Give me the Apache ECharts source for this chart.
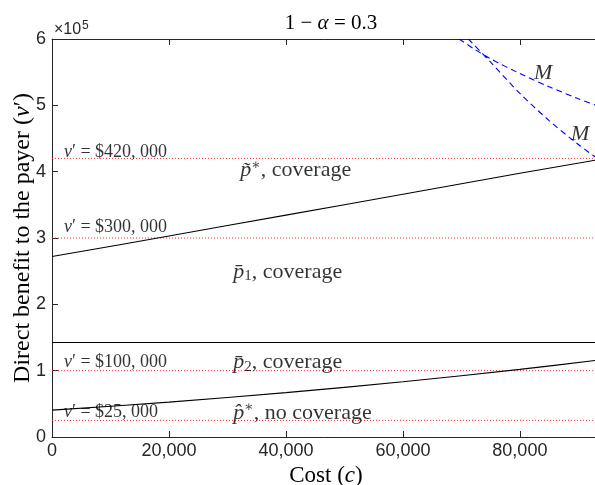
<!DOCTYPE html>
<html>
<head>
<meta charset="utf-8">
<script src="https://cdn.jsdelivr.net/npm/echarts@6/dist/echarts.min.js"></script>
<style>
  html, body { margin: 0; padding: 0; background: #fff; }
  #chart { width: 595px; height: 485px; }
</style>
</head>
<body>
<div id="chart"></div>
<script>
// Axis ticks
const costTicks = [0, 20000, 40000, 60000, 80000];
const benefitTicks = [0, 100000, 200000, 300000, 400000, 500000, 600000];

// Threshold p-tilde* / p-bar1 boundary (solid black, upper)
const upperCost = [0, 20000, 40000, 60000, 80000, 93700];
const upperValue = [272000, 303000, 334500, 366000, 397500, 418500];

// Flat boundary between p-bar1 and p-bar2 regions
const flatCost = [0, 93700];
const flatValue = [142500, 142500];

// Threshold p-bar2 / p-hat* boundary (solid black, lower)
const lowerCost = [0, 20000, 40000, 60000, 80000, 93700];
const lowerValue = [40500, 52600, 66900, 83300, 101900, 116200];

// M curves (blue dashed)
const mFlatCost = [69600, 72000, 75000, 80000, 85000, 90000, 93700];
const mFlatValue = [600000, 586000, 570000, 548000, 528000, 510000, 498000];
const mSteepCost = [71200, 75000, 80000, 85000, 90000, 93700];
const mSteepValue = [600000, 565000, 518000, 477000, 441000, 417000];

// Reference levels of v'
const refLevels = [420000, 300000, 100000, 25000];
const refLabels = ["$420, 000", "$300, 000", "$100, 000", "$25, 000"];

const serif = '"Liberation Serif", "DejaVu Serif", serif';
const sans = '"Liberation Sans", Arial, sans-serif';
const axisColor = '#262626';
const xMax = 93700;

function pairs(xs, ys) { return xs.map((x, i) => [x, ys[i]]); }
function fmtThousands(v) { return String(v).replace(/\B(?=(\d{3})+(?!\d))/g, ','); }

const series = [];

refLevels.forEach((lvl) => {
  series.push({
    type: 'line', data: [[0, lvl], [xMax, lvl]], symbol: 'none', silent: true,
    lineStyle: { color: '#ff2a2a', width: 1, type: [1, 2] }, z: 1
  });
});

const solid = { color: '#000', width: 1.1 };
series.push({ type: 'line', data: pairs(upperCost, upperValue), symbol: 'none', smooth: 0.3, lineStyle: solid, z: 3 });
series.push({ type: 'line', data: pairs(flatCost, flatValue), symbol: 'none', lineStyle: solid, z: 3 });
series.push({ type: 'line', data: pairs(lowerCost, lowerValue), symbol: 'none', smooth: 0.3, lineStyle: solid, z: 3 });

const dashed = { color: '#0000ff', width: 1.1, type: [6, 4] };
series.push({ type: 'line', data: pairs(mFlatCost, mFlatValue), symbol: 'none', smooth: 0.3, lineStyle: dashed, z: 3 });
series.push({ type: 'line', data: pairs(mSteepCost, mSteepValue), symbol: 'none', smooth: 0.3, lineStyle: dashed, z: 3 });

// v' = ... annotations above each reference level
const refLabelPos = [430000, 316000, 113000, 37500];
series.push({
  type: 'scatter', symbolSize: 0, silent: true, z: 5,
  data: refLevels.map((lvl, i) => ({ value: [2050, refLabelPos[i]], name: refLabels[i] })),
  label: {
    show: true, position: 'right', distance: 0,
    formatter: p => '{i|v}{n|\u2032 = ' + p.name + '}',
    rich: {
      i: { fontFamily: serif, fontStyle: 'italic', fontSize: 18, color: '#000' },
      n: { fontFamily: serif, fontSize: 18, color: '#000' }
    }
  }
});

// Region labels
const richRegion = {
  i: { fontFamily: serif, fontStyle: 'italic', fontSize: 22, color: '#000' },
  sup: { fontFamily: serif, fontSize: 14, color: '#000', verticalAlign: 'top', padding: [0, 0, 10, 0] },
  sub: { fontFamily: serif, fontSize: 15, color: '#000', verticalAlign: 'bottom', padding: [8, 0, 0, 0] },
  n: { fontFamily: serif, fontSize: 22, color: '#000' }
};
const regionNames = ['tilde', 'bar1', 'bar2', 'hat'];
const regionX = [32200, 31000, 31000, 31000];
const regionY = [402000, 249000, 112000, 36500];
const regionText = {
  tilde: '{i|p\u0303}{sup|\u2217}{n|, coverage}',
  bar1: '{i|p\u0304}{sub|1}{n|, coverage}',
  bar2: '{i|p\u0304}{sub|2}{n|, coverage}',
  hat: '{i|p\u0302}{sup|\u2217}{n|, no coverage}'
};
series.push({
  type: 'scatter', symbolSize: 0, silent: true, z: 5,
  data: regionNames.map((k, i) => ({ value: [regionX[i], regionY[i]], name: k })),
  label: {
    show: true, position: 'right', distance: 0,
    formatter: p => regionText[p.name],
    rich: richRegion
  }
});

// M labels near the dashed curves
series.push({
  type: 'scatter', symbolSize: 0, silent: true, z: 5,
  data: [[84000, 548000], [90300, 457000]],
  label: {
    show: true, position: 'inside',
    formatter: 'M',
    fontFamily: serif, fontStyle: 'italic', fontSize: 22, color: '#000'
  }
});

const chart = echarts.init(document.getElementById('chart'), null, { renderer: 'canvas' });
chart.setOption({
  animation: false,
  backgroundColor: '#fff',
  title: {
    text: '{n|1 \u2212 }{i|\u03b1}{n| = 0.3}',
    left: 326, top: 8, textAlign: 'center',
    textStyle: {
      fontWeight: 'normal',
      rich: {
        n: { fontFamily: serif, fontSize: 21, fontWeight: 'normal', color: '#000' },
        i: { fontFamily: serif, fontStyle: 'italic', fontSize: 21, fontWeight: 'normal', color: '#000' }
      }
    }
  },
  grid: { left: 52, top: 39, width: 548, height: 398, containLabel: false, outerBoundsMode: 'none' },
  xAxis: [{
    type: 'value', min: 0, max: xMax, interval: 20000,
    name: '{n|Cost (}{i|c}{n|)}', nameLocation: 'middle', nameGap: 25,
    nameTextStyle: {
      rich: {
        n: { fontFamily: serif, fontSize: 23, color: '#000' },
        i: { fontFamily: serif, fontStyle: 'italic', fontSize: 23, color: '#000' }
      }
    },
    axisLine: { show: true, lineStyle: { color: axisColor, width: 1 } },
    axisTick: { show: true, inside: true, length: 6, lineStyle: { color: axisColor } },
    axisLabel: {
      fontFamily: sans, fontSize: 18, color: axisColor, margin: 5, showMaxLabel: false,
      formatter: v => costTicks.includes(v) ? fmtThousands(v) : ''
    },
    splitLine: { show: false }
  }, {
    type: 'value', position: 'top', min: 0, max: xMax, interval: 20000,
    axisLine: { show: true, lineStyle: { color: axisColor, width: 1 } },
    axisTick: { show: true, inside: true, length: 6, lineStyle: { color: axisColor } },
    axisLabel: { show: false },
    splitLine: { show: false }
  }],
  yAxis: {
    type: 'value', min: 0, max: 600000, interval: 100000,
    axisLine: { show: true, lineStyle: { color: axisColor, width: 1 } },
    axisTick: { show: true, inside: true, length: 6, lineStyle: { color: axisColor } },
    axisLabel: {
      fontFamily: sans, fontSize: 18, color: axisColor, margin: 6,
      formatter: v => benefitTicks.includes(v) ? String(v / 100000) : ''
    },
    splitLine: { show: false }
  },
  graphic: [{
    type: 'text', x: 23, y: 238, rotation: Math.PI / 2,
    style: {
      text: '{n|Direct benefit to the payer (}{i|v}{n|\u2032)}',
      align: 'center', verticalAlign: 'middle',
      rich: {
        n: { font: '24px "Liberation Serif"', fill: '#000' },
        i: { font: 'italic 24px "Liberation Serif"', fill: '#000' }
      }
    }
  }, {
    type: 'text', x: 54, y: 38,
    style: {
      text: '\u00d710', font: '16px "Liberation Sans"', fill: axisColor,
      verticalAlign: 'bottom'
    }
  }, {
    type: 'text', x: 82, y: 32,
    style: {
      text: '5', font: '12px "Liberation Sans"', fill: axisColor,
      verticalAlign: 'bottom'
    }
  }],
  series: series.map(s => Object.assign({ xAxisIndex: 0, yAxisIndex: 0, clip: true }, s))
});
</script>
</body>
</html>
